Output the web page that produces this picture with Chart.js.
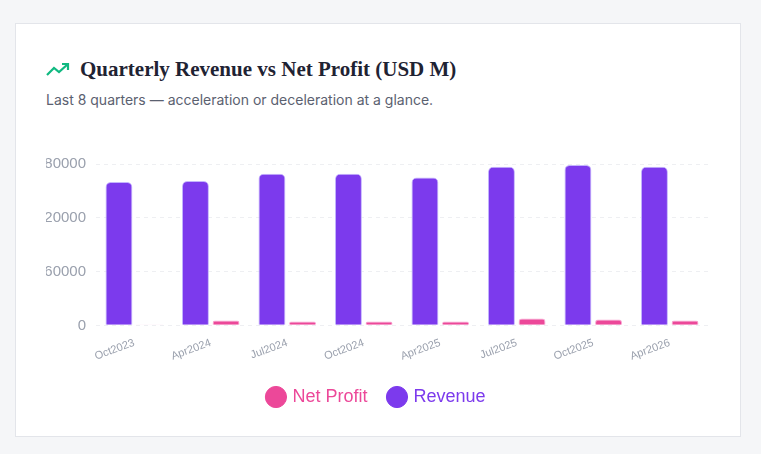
<!DOCTYPE html>
<html>
<head>
<meta charset="utf-8">
<script src="https://cdn.jsdelivr.net/npm/chart.js@4"></script>
<style>
  body { margin: 0; background: #f5f6f8; font-family: Inter, sans-serif; }
  .card { position: absolute; left: 15px; top: 23px; width: 726px; height: 414px; background: #fff; border: 1px solid #e3e5ea; box-sizing: border-box; }
  h1 { position: absolute; left: 30px; top: 33px; margin: 0; font: bold 21px "Liberation Serif", serif; color: #1f2333; display: flex; align-items: center; }
  h1 svg { margin-right: 10px; }
  p { position: absolute; left: 30px; top: 67px; margin: 0; font-size: 14px; color: #5b6170; }
  .wrap { position: absolute; left: 30px; top: 110px; width: 662px; height: 282px; }
</style>
</head>
<body>
<div class="card">
  <h1><svg width="24" height="16" viewBox="0 0 24 16"><polyline points="1,13 8,6 13,10 22,2" fill="none" stroke="#10b981" stroke-width="2.2"/><polyline points="16,2 22,2 22,8" fill="none" stroke="#10b981" stroke-width="2.2"/></svg>Quarterly Revenue vs Net Profit (USD M)</h1>
  <p>Last 8 quarters — acceleration or deceleration at a glance.</p>
  <div class="wrap"><canvas id="chart"></canvas></div>
</div>
<script>
const quarters = ['Oct2023', 'Apr2024', 'Jul2024', 'Oct2024', 'Apr2025', 'Jul2025', 'Oct2025', 'Apr2026'];
const revenue = [160000, 161000, 169000, 169000, 165000, 177000, 179000, 177000];
const netProfit = [1000, 5500, 4400, 4400, 4400, 7700, 6600, 5500];
const yTicks = [0, 60000, 120000, 180000];

new Chart(document.getElementById('chart'), {
    type: 'bar',
    data: {
        labels: quarters,
        datasets: [
            {
                label: 'Revenue',
                data: revenue,
                backgroundColor: '#7c3aed',
                borderColor: '#c4b5fd',
                borderWidth: 1,
                borderRadius: 5
            },
            {
                label: 'Net Profit',
                data: netProfit,
                backgroundColor: '#ec4899',
                borderColor: '#f9a8d4',
                borderWidth: 1,
                borderRadius: 5
            }
        ]
    },
    options: {
        responsive: true,
        maintainAspectRatio: false,
        animation: false,
        categoryPercentage: 0.8,
        barPercentage: 0.88,
        layout: { padding: { top: 30 } },
        scales: {
            x: {
                grid: { display: false },
                border: { display: false },
                ticks: { color: '#9aa0ad', font: { size: 11 }, maxRotation: 20, minRotation: 20 }
            },
            y: {
                min: 0,
                max: 180000,
                afterBuildTicks: s => { s.ticks = yTicks.map(v => ({ value: v })); },
                afterFit: s => { s.width = 50; },
                grid: { color: '#eeeff2', drawTicks: false },
                border: { display: false, dash: [4, 4] },
                ticks: { color: '#9aa0ad', font: { size: 15 }, padding: 10, callback: v => String(v) }
            }
        },
        plugins: {
            legend: {
                position: 'bottom',
                reverse: true,
                labels: {
                    usePointStyle: true,
                    pointStyle: 'circle',
                    boxWidth: 15,
                    boxHeight: 15,
                    padding: 22,
                    font: { size: 18 },
                    generateLabels: chart => Chart.defaults.plugins.legend.labels.generateLabels(chart).map(l => ({ ...l, fontColor: chart.data.datasets[l.datasetIndex].backgroundColor, strokeStyle: chart.data.datasets[l.datasetIndex].backgroundColor }))
                }
            },
            title: { display: false }
        }
    }
});
</script>
</body>
</html>
